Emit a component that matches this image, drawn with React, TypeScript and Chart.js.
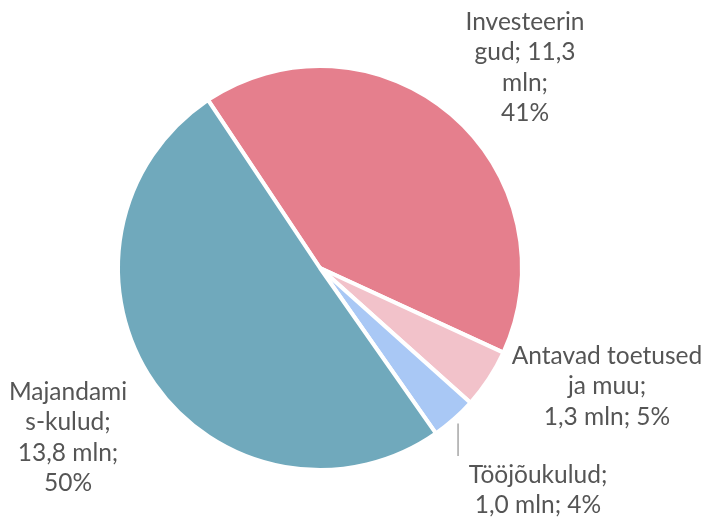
import React, { useEffect, useRef } from "react";
import { Chart, registerables } from "chart.js";

Chart.register(...registerables);

const categories = ["Investeeringud", "Antavad toetused ja muu", "Tööjõukulud", "Majandamis-kulud"];
const values = [11.3, 1.3, 1.0, 13.8];
const percents = [41, 5, 4, 50];
const labelLines = [
  ["Investeerin", "gud; 11,3", "mln;", "41%"],
  ["Antavad toetused", "ja muu;", "1,3 mln; 5%"],
  ["Tööjõukulud;", "1,0 mln; 4%"],
  ["Majandami", "s-kulud;", "13,8 mln;", "50%"],
];
const colors = ["#E57F8D", "#F2C2CA", "#A9C8F5", "#70A9BC"];

// label layout (offset of first line centre from pie centre)
const labelOffsets = [
  [205, -246],
  [287, 88],
  [218, 207],
  [-252, 124],
];
const leaderFor = [false, false, true, false];

const labelPlugin = {
  id: "sliceLabels",
  afterDraw(chart: any) {
    const ctx = chart.ctx;
    const meta = chart.getDatasetMeta(0);
    ctx.save();
    ctx.font = "24.5px Lato";
    ctx.fillStyle = "#555555";
    ctx.textAlign = "center";
    ctx.textBaseline = "middle";
    const lh = 30.5;
    meta.data.forEach((arc: any, i: number) => {
      const { x, y, outerRadius, startAngle, endAngle } = arc.getProps(
        ["x", "y", "outerRadius", "startAngle", "endAngle"],
        true
      );
      const lx = x + labelOffsets[i][0];
      const ly = y + labelOffsets[i][1];
      labelLines[i].forEach((t, k) => ctx.fillText(t, lx, ly + k * lh));
      if (leaderFor[i]) {
        const mid = (startAngle + endAngle) / 2;
        const r = outerRadius + 6;
        const px = x + Math.cos(mid) * r;
        const py = y + Math.sin(mid) * r;
        ctx.strokeStyle = "#A6A6A6";
        ctx.lineWidth = 1.5;
        ctx.beginPath();
        ctx.moveTo(px, py);
        ctx.lineTo(px, ly - 19);
        ctx.stroke();
      }
    });
    ctx.restore();
  },
};

export default function App() {
  const ref = useRef<HTMLCanvasElement>(null);
  useEffect(() => {
    if (!ref.current) return;
    const chart = new Chart(ref.current, {
      type: "pie",
      data: {
        labels: categories,
        datasets: [
          {
            data: values,
            backgroundColor: colors,
            borderColor: "#FFFFFF",
            borderWidth: 4,
          },
        ],
      },
      options: {
        responsive: false,
        animation: false,
        rotation: -33.7,
        layout: { padding: { left: 116, right: 183, top: 64, bottom: 52 } },
        plugins: {
          legend: { display: false },
          tooltip: { enabled: false },
        },
      },
      plugins: [labelPlugin],
    });
    return () => chart.destroy();
  }, []);
  return (
    <div style={{ position: "absolute", left: 0, top: 0, width: 707, height: 524, background: "#fff" }}>
      <canvas ref={ref} width={707} height={524} style={{ display: "block" }} />
    </div>
  );
}
